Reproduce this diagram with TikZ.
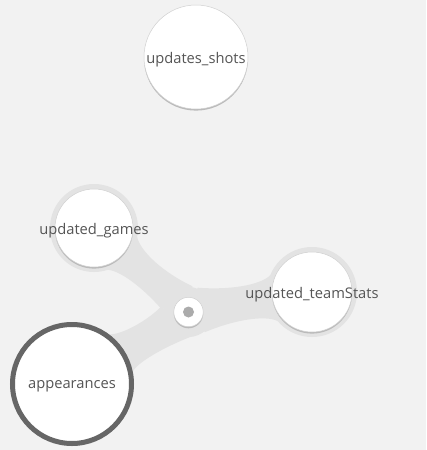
\documentclass[tikz,border=0pt]{standalone}
\usepackage{fontspec}
\setsansfont{Open Sans}
\usetikzlibrary{calc,shadows}
\definecolor{bgc}{HTML}{F2F2F2}
\definecolor{conncol}{HTML}{E3E3E3}
\definecolor{labelcol}{HTML}{555555}
\definecolor{ringcol}{HTML}{666666}
\definecolor{shadowcol}{HTML}{BABABA}
\definecolor{rimcol}{HTML}{D0D0D0}
\definecolor{dotcol}{HTML}{ABABAB}
\definecolor{ballout}{HTML}{D6D6D6}
\pgfdeclareradialshading{ballshade}{\pgfpoint{0bp}{0bp}}{color(0bp)=(white); color(26bp)=(white); color(40bp)=(ballout!35!white); color(50bp)=(ballout)}
\pgfdeclarelayer{bg}
\pgfsetlayers{bg,main}
\begin{document}
\begin{tikzpicture}[x=1pt,y=-1pt,
  ball/.style={circle, inner sep=0pt, shading=ballshade, draw=rimcol, line width=0.5pt,
    drop shadow={shadow xshift=0pt, shadow yshift=-1.6pt, fill=shadowcol, opacity=1}},
  lbl/.style={font=\sffamily\fontsize{14.7}{17}\selectfont, text=labelcol, inner sep=0pt, yshift=-2.5pt},
  conn/.style={fill=conncol}]
\useasboundingbox (0,0) rectangle (426,450);

\node[ball, minimum size=104pt, label={[lbl]center:updates\_shots}] (s) at (196,57) {};
\node[ball, minimum size=78pt, label={[lbl]center:updated\_games}] (g) at (94,228) {};
\node[ball, minimum size=80pt, label={[lbl]center:updated\_teamStats}] (t) at (312,292) {};
\node[ball, minimum size=119pt, draw=ringcol, line width=5pt, label={[lbl]center:appearances}] (a) at (72,384) {};
\node[ball, minimum size=29.4pt] (hub) at (188.5,312) {};
\fill[dotcol] (hub.center) circle (5.5pt);

\begin{pgfonlayer}{bg}
\fill[bgc] (0,0) rectangle (426,450);
\fill[conn] (g.center) circle (44pt);
\fill[conn] (t.center) circle (45pt);
\fill[conn] (hub.center) circle (25pt);
% updated_games connector
\fill[conn] ($(g)!44pt!30:(hub)$) .. controls ($(g)!0.4!(hub)!13pt!90:(hub)$) and ($(g)!0.65!(hub)!13pt!90:(hub)$) .. ($(hub)!26pt!-57:(g)$)
  -- (hub.center) -- ($(hub)!28pt!34:(g)$) .. controls ($(g)!0.65!(hub)!13pt!-90:(hub)$) and ($(g)!0.4!(hub)!13pt!-90:(hub)$) .. ($(g)!44pt!-30:(hub)$)
  -- (g.center) -- cycle;
% updated_teamStats connector
\fill[conn] ($(t)!45pt!31:(hub)$) .. controls ($(t)!0.4!(hub)!15pt!90:(hub)$) and ($(t)!0.65!(hub)!15pt!90:(hub)$) .. ($(hub)!26pt!-60:(t)$)
  -- (hub.center) -- ($(hub)!26pt!60:(t)$) .. controls ($(t)!0.65!(hub)!15pt!-90:(hub)$) and ($(t)!0.4!(hub)!15pt!-90:(hub)$) .. ($(t)!45pt!-31:(hub)$)
  -- (t.center) -- cycle;
% appearances connector
\fill[conn] ($(a)!61pt!24:(hub)$) .. controls ($(a)!0.45!(hub)!16pt!90:(hub)$) and ($(a)!0.7!(hub)!14pt!90:(hub)$) .. ($(hub)!29pt!-40:(a)$)
  -- (hub.center) -- ($(hub)!24pt!80:(a)$) .. controls ($(a)!0.7!(hub)!16pt!-90:(hub)$) and ($(a)!0.45!(hub)!16pt!-90:(hub)$) .. ($(a)!61pt!-22:(hub)$)
  -- (a.center) -- cycle;
\end{pgfonlayer}
\end{tikzpicture}
\end{document}
